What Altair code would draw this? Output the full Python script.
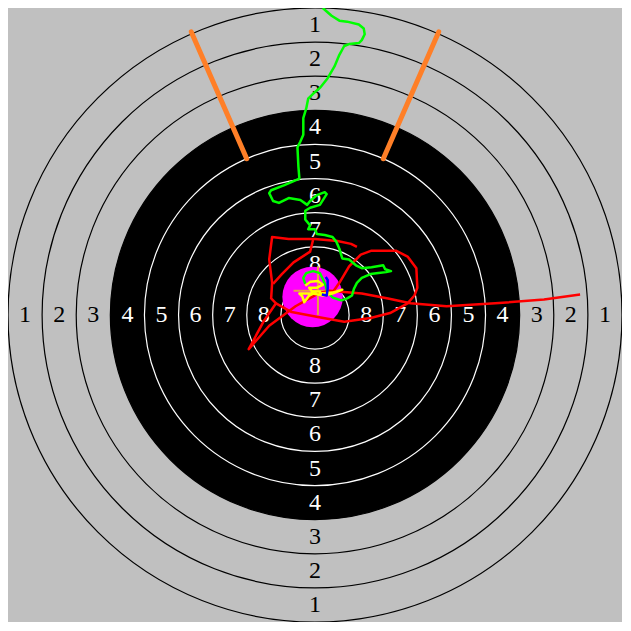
import math
import altair as alt
import pandas as pd

# ---- target geometry (units: target units, centre = 0,0, y up) ----
ring_numbers = [1, 2, 3, 4, 5, 6, 7, 8]
ring_radii = [35, 70, 105, 140, 175, 210, 245, 280, 315]
black_radius = 210
ring_width = 35

# sighting marks (angle from vertical in degrees, inner/outer radius)
mark_angles = [-23.6, 23.6]
mark_r_inner = 175
mark_r_outer = 317

# ---- traces ----
green_x = [8, 17, 25, 33, 45, 50, 51, 48, 45, 35, 30, 25, 20, 13, 5, -2, -7, -9, -12, -12,
           -15, -18, -17, -16, -32, -45, -47, -43, -37, -27, -15, -8, -5, 2, 10, 12, 5, -5, -10, -10,
           -5, -7, 0, 2, 10, 18, 22, 25, 28, 35, 42, 48, 58, 70, 72, 78, 73, 65, 57, 48,
           43, 40, 38, 33, 27, 18, 13, 11, 8, 5, -2, -9, -12, -10]
green_y = [315, 307, 302, 301, 298, 294, 288, 282, 279, 278, 276, 267, 255, 243, 233, 227, 222, 212, 202, 185,
           178, 172, 152, 140, 133, 128, 125, 117, 115, 120, 118, 113, 117, 123, 126, 124, 113, 110, 107, 98,
           92, 88, 88, 83, 82, 80, 75, 68, 58, 57, 51, 48, 49, 51, 47, 45, 44, 43, 42, 38,
           33, 27, 20, 17, 15, 18, 23, 30, 37, 43, 45, 43, 38, 32]

red_a_x = [43, 37, 23, 0, -27, -44, -47, -44, -45, -40, -53, -68, -47, -20, 3, 15, 48, 75, 98, 135, 185, 235, 272]
red_a_y = [70, 73, 76, 78, 78, 80, 57, 33, 17, 12, -7, -35, -11, 9, 22, 25, 22, 17, 12, 9, 12, 16, 21]
red_b_x = [-40, -24, 3, 30, 57, 77, 95, 102, 105, 104, 95, 83, 58, 47, 35, 25, 18]
red_b_y = [12, 3, -2, -7, -3, 2, 12, 20, 28, 48, 60, 66, 66, 62, 50, 33, 23]
red_c_x = [-2, -5, -22, -34, -43]
red_c_y = [77, 65, 54, 42, 32]

yellow_x = [-10, -5, 3, 8, 2, -6, -3, 5, 5, 18, 28, 18, 8, -2, -16, -13, -11, -6, -2]
yellow_y = [30, 34, 35, 31, 28, 28, 24, 24, 22, 23, 26, 22, 20, 22, 22, 19, 13, 20, 22]

blue_x = [11, 13, 13, 12, 7]
blue_y = [39, 36, 27, 20, 21]

shot_x, shot_y, shot_r = -2.5, 18.5, 31
aim_x, aim_y, aim_half = 3, 25, 25

# ---- layout ----
W = 614
S = W / 630.0
dom = [-315, 315]
X = lambda f: alt.X(f, type="quantitative", scale=alt.Scale(domain=dom, nice=False, zero=False), axis=None)
Y = lambda f: alt.Y(f, type="quantitative", scale=alt.Scale(domain=dom, nice=False, zero=False), axis=None)

centre = pd.DataFrame({"x": [0], "y": [0]})

black_disk = alt.Chart(centre).mark_circle(color="black", opacity=1).encode(
    x=X("x"), y=Y("y"), size=alt.value((2 * black_radius * S) ** 2))

rings = pd.DataFrame({
    "x": [0] * len(ring_radii),
    "y": [0] * len(ring_radii),
    "sz": [(2 * r * S) ** 2 for r in ring_radii],
    "col": ["white" if r < black_radius else "black" for r in ring_radii],
})
ring_layer = alt.Chart(rings).mark_point(shape="circle", filled=False, opacity=1, strokeWidth=1.2).encode(
    x=X("x"), y=Y("y"), size=alt.Size("sz:Q", scale=None), stroke=alt.Stroke("col:N", scale=None))

lab_rows = []
for n in ring_numbers:
    mid = (9.5 - n) * ring_width
    col = "white" if n >= 4 else "black"
    for dx, dy in [(-1, 0), (1, 0), (0, 1), (0, -1)]:
        lab_rows.append({"x": dx * mid, "y": dy * mid, "t": str(n), "col": col})
labels = alt.Chart(pd.DataFrame(lab_rows)).mark_text(
    font="Liberation Serif", fontSize=24, baseline="middle", align="center").encode(
    x=X("x"), y=Y("y"), text="t:N", color=alt.Color("col:N", scale=None))

mk_rows = []
for a in mark_angles:
    ra = math.radians(a)
    mk_rows.append({"x": mark_r_inner * math.sin(ra), "y": mark_r_inner * math.cos(ra),
                    "x2": mark_r_outer * math.sin(ra), "y2": mark_r_outer * math.cos(ra)})
marks = alt.Chart(pd.DataFrame(mk_rows)).mark_rule(color="#ff7f27", strokeWidth=5, strokeCap="round").encode(
    x=X("x"), y=Y("y"), x2="x2:Q", y2="y2:Q")

shot = alt.Chart(pd.DataFrame({"x": [shot_x], "y": [shot_y]})).mark_circle(color="#ff00ff", opacity=1).encode(
    x=X("x"), y=Y("y"), size=alt.value((2 * shot_r * S) ** 2))

cross = alt.Chart(pd.DataFrame({
    "x": [aim_x - aim_half, aim_x], "x2": [aim_x + aim_half, aim_x],
    "y": [aim_y, aim_y - aim_half], "y2": [aim_y, aim_y + aim_half]})).mark_rule(
    color="#e8a040", strokeWidth=2).encode(x=X("x"), y=Y("y"), x2="x2:Q", y2="y2:Q")


def trace(xs, ys, seg="a"):
    df = pd.DataFrame({"x": xs, "y": ys, "i": list(range(len(xs)))})
    df["seg"] = seg
    return df


red_df = pd.concat([trace(red_a_x, red_a_y, "a"),
                    trace(red_b_x, red_b_y, "b"),
                    trace(red_c_x, red_c_y, "c")])


def line(df, color):
    return alt.Chart(df).mark_line(color=color, strokeWidth=2.5, strokeJoin="round").encode(
        x=X("x"), y=Y("y"), order="i:Q", detail="seg:N")


chart = alt.layer(
    black_disk, ring_layer, labels, marks, shot, cross,
    line(red_df, "#ff0000"),
    line(trace(green_x, green_y), "#00ff00"),
    line(trace(yellow_x, yellow_y), "#ffff00"),
    line(trace(blue_x, blue_y), "#0000ff"),
).properties(width=W, height=W, padding=0, autosize="none").configure(
    background="#c0c0c0").configure_view(stroke=None)

chart.save("out.html", embed_options={"renderer": "svg", "actions": False})
